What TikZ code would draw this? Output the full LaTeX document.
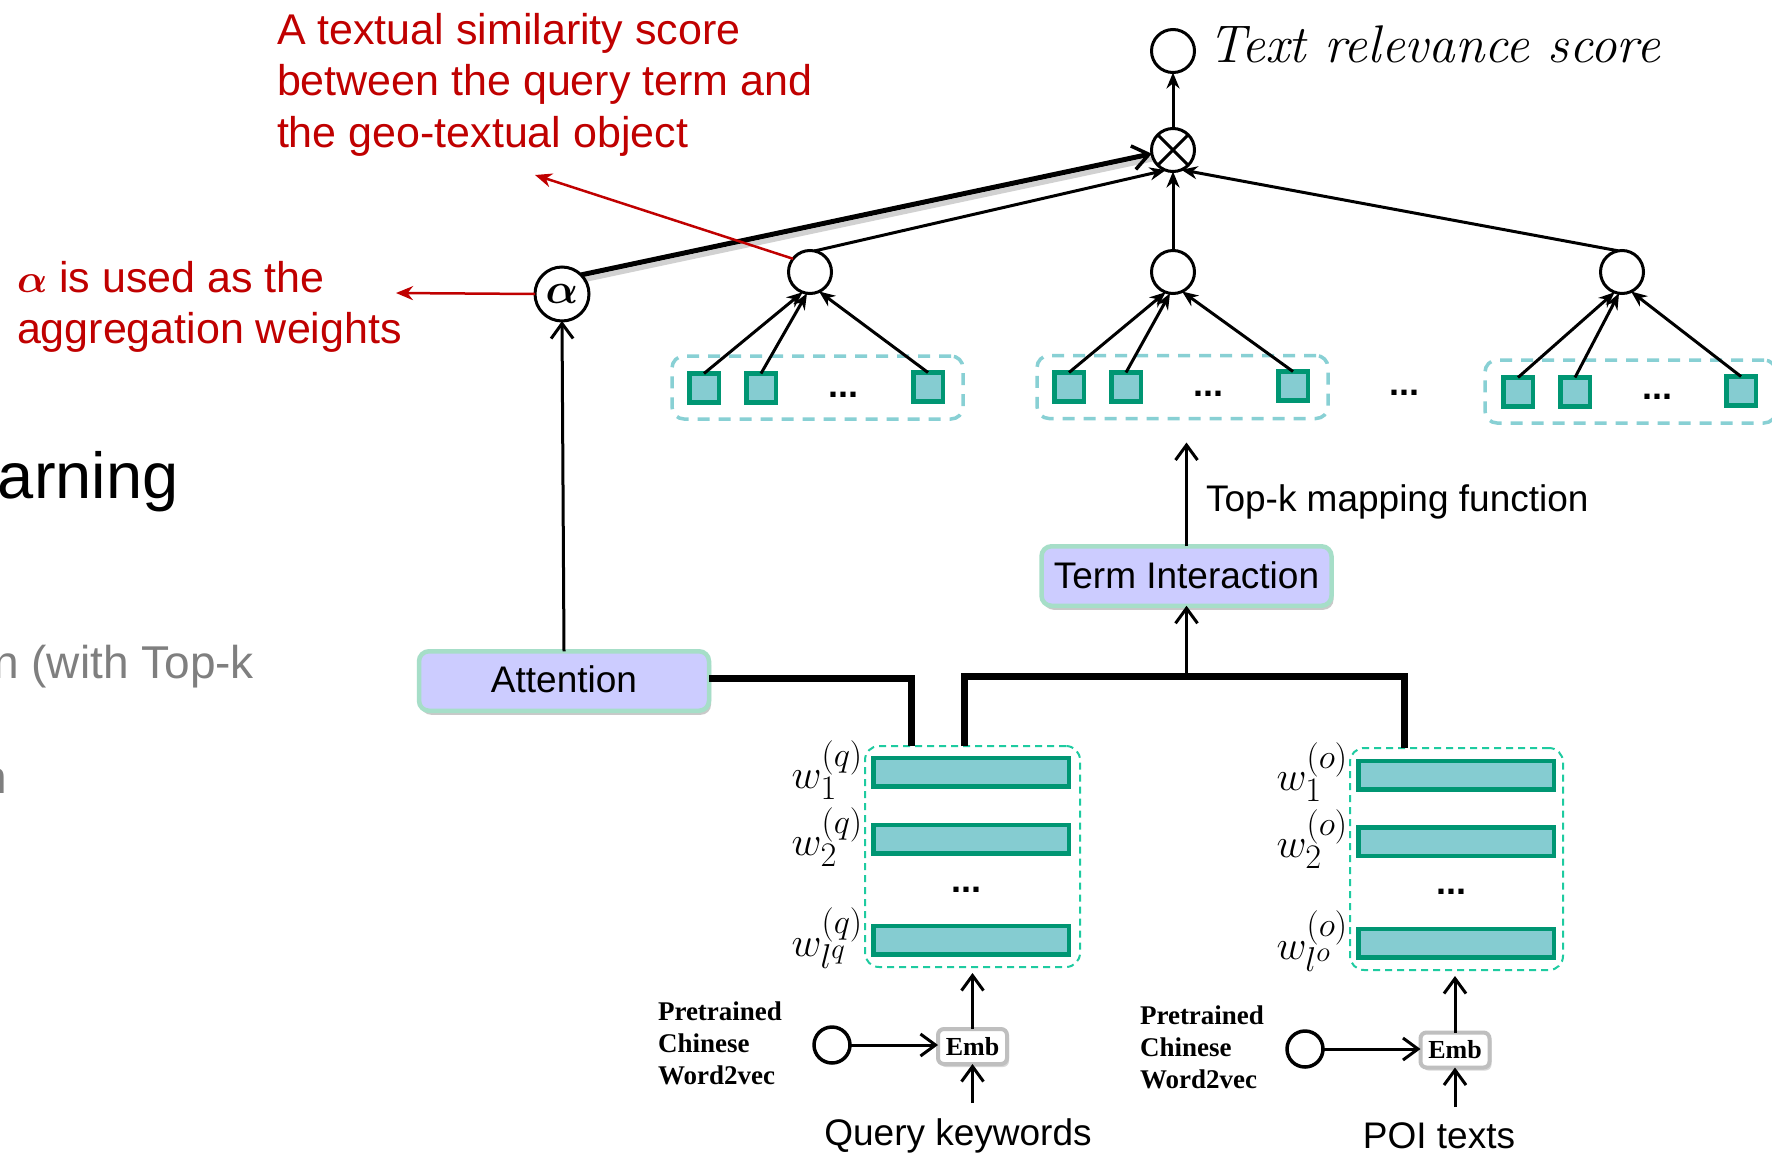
\RequirePackage{fix-cm}
\documentclass[tikz,border=0pt]{standalone}
\usepackage{fontspec}
\usepackage{graphicx}
\usepackage{bm}
\usetikzlibrary{arrows.meta,shapes.geometric,shadows,calc}
\newfontfamily\arialf{Liberation Sans}
\newfontfamily\serifb{Liberation Serif}
\definecolor{redann}{HTML}{C00000}
\definecolor{cellfill}{HTML}{85CCD1}
\definecolor{celledge}{HTML}{009673}
\definecolor{grpdash}{HTML}{88D0D4}
\definecolor{embdash}{HTML}{1ECBA0}
\definecolor{boxfill}{HTML}{CCCCFF}
\definecolor{boxedge}{HTML}{A6DEC8}
\definecolor{embedge}{HTML}{BFBFBF}
\definecolor{graytxt}{HTML}{7F7F7F}
% math set at the largest design size, then enlarged
\newcommand{\bigmath}[2]{\scalebox{#1}{\fontsize{24.88}{28}\selectfont$#2$}}
\begin{document}
\begin{tikzpicture}[x=1pt,y=-1pt,
  every node/.style={inner sep=0pt,outer sep=0pt},
  neuron/.style={draw,circle,line width=3pt,minimum size=43pt,fill=white},
  smallc/.style={draw,circle,line width=3.5pt,minimum size=36pt,fill=white},
  cell/.style={draw=celledge,fill=cellfill,line width=4.5pt,minimum width=29.5pt,minimum height=29pt},
  bar/.style={draw=celledge,fill=cellfill,line width=4.5pt,minimum width=195.5pt,minimum height=28.5pt},
  grp/.style={draw=grpdash,line width=3.5pt,dash pattern=on 12pt off 9pt,rounded corners=12pt,minimum width=291pt,minimum height=63pt},
  embgrp/.style={draw=embdash,line width=2pt,dash pattern=on 7pt off 5pt,rounded corners=14pt},
  procbox/.style={draw=boxedge,fill=boxfill,line width=4.5pt,rounded corners=10pt,minimum width=290pt,minimum height=59.5pt,
    font=\arialf\fontsize{37}{44}\selectfont,
    drop shadow={shadow xshift=2pt,shadow yshift=-4pt,opacity=0.35,fill=black!60}},
  embbox/.style={draw=embedge,fill=white,line width=4pt,rounded corners=6pt,minimum width=69pt,minimum height=35pt,
    font=\serifb\bfseries\fontsize{26}{30}\selectfont,
    drop shadow={shadow xshift=2pt,shadow yshift=-3pt,opacity=0.3,fill=black!50}},
  tree/.style={line width=3pt,-{Stealth[length=16pt,width=13pt]}},
  openarr/.style={line width=3pt,-{Straight Barb[length=15pt,width=22pt,line width=3pt]}},
  conn/.style={line width=7pt},
  redarrow/.style={draw=redann,line width=2.5pt,-{Stealth[length=17pt,width=14pt]}},
  redtxt/.style={text=redann,font=\arialf\fontsize{43}{51.5}\selectfont,align=left,anchor=north west},
  sanslbl/.style={font=\arialf\fontsize{37}{44}\selectfont},
  dots/.style={font=\arialf\bfseries\fontsize{36}{36}\selectfont,anchor=base},
  wlbl/.style={anchor=east},
  pretr/.style={font=\serifb\bfseries\fontsize{27}{32}\selectfont,align=left,anchor=north west}]

\clip (0,0) rectangle (1772,1154);
\fill[white] (0,0) rectangle (1772,1154);

% clipped slide text on the left edge
\node[anchor=base west,font=\arialf\fontsize{65}{72}\selectfont] (learn) at (-2,498) {arning};
\node[anchor=base east,text=graytxt,font=\arialf\fontsize{46}{54}\selectfont] (topkline) at (254,678) {n (with Top-k};
\node[anchor=base east,text=graytxt,font=\arialf\fontsize{46}{54}\selectfont] (partial) at (7,793) {n};

% red annotations
\node[redtxt] (simtxt) at (277,13) {A textual similarity score\\between the query term and\\the geo-textual object};
\node[redtxt] (alphatxt) at (17,261) {\bigmath{1.6}{\bm{\alpha}} is used as the\\aggregation weights};

% top-k groups of interaction cells
\node[grp] (g1) at (817.5,387.5) {};
\node[grp] (g2) at (1182.5,387) {};
\node[grp] (g3) at (1630.5,391.5) {};

\node[cell] (s11) at (704,388) {};
\node[cell] (s12) at (761,388) {};
\node[cell] (s13) at (928,387) {};
\node[cell] (s21) at (1069,387) {};
\node[cell] (s22) at (1126,387) {};
\node[cell] (s23) at (1293,386) {};
\node[cell] (s31) at (1518,392) {};
\node[cell] (s32) at (1575,392) {};
\node[cell] (s33) at (1741,391) {};

\node[dots] (d1) at (843,397) {...};
\node[dots] (d2) at (1208,396) {...};
\node[dots] (dm) at (1404,395) {...};
\node[dots] (d3) at (1657,399) {...};

% aggregation neurons
\node[neuron] (out) at (1173,51) {};
\node[neuron] (ot) at (1173,150) {};
\draw[line width=3pt] (ot.north west) -- (ot.south east) (ot.north east) -- (ot.south west);
\node[neuron,minimum size=54pt] (alpha) at (562,294) {\bigmath{1.72}{\bm{\alpha}}};
\node[neuron] (c1) at (810,272) {};
\node[neuron] (c2) at (1173,272) {};
\node[neuron] (c3) at (1622,272) {};

\node[anchor=base west,font=\itshape\fontsize{53}{58}\selectfont] (relev) at (1208,62) {Text relevance score};

\draw[tree] (s11.north) -- (c1.250);
\draw[tree] (s12.north) -- (c1.262);
\draw[tree] (s13.north) -- (c1.295);
\draw[tree] (s21.north) -- (c2.250);
\draw[tree] (s22.north) -- (c2.262);
\draw[tree] (s23.north) -- (c2.295);
\draw[tree] (s31.north) -- (c3.250);
\draw[tree] (s32.north) -- (c3.262);
\draw[tree] (s33.north) -- (c3.295);

\draw[tree] (c1.78) -- (ot.250);
\draw[tree] (c2.north) -- (ot.south);
\draw[tree] (c3.100) -- (ot.293);
\draw[tree] (ot.north) -- (out.south);

% weighted link from alpha, with its shadow
\draw[line width=5pt,black,opacity=0.18] ($(alpha.45)+(2,5)$) -- ($(ot.190)+(2,5)$);
\draw[line width=5pt,-{Straight Barb[length=16pt,width=24pt,line width=3.5pt]}] (alpha.45) -- (ot.190);

\coordinate (simtip) at (535,175);
\coordinate (alphatip) at (396,293);
\draw[redarrow] (c1.142) -- (simtip);
\draw[redarrow] (alpha.west) -- (alphatip);

% attention and term interaction
\node[procbox] (att) at (564,681) {\raisebox{3pt}{Attention}};
\node[procbox] (term) at (1186.5,576) {\raisebox{2pt}{Term Interaction}};
\draw[openarr] (att.north) -- (alpha.south);
\draw[openarr,shorten >=24pt] (term.north) -- (term.north |- g2.south);
\node[anchor=base west,sanslbl] (topk) at (1206,511) {Top-k mapping function};

% embedding matrices
\node[embgrp,minimum width=215pt,minimum height=221pt] (qgrp) at (972.5,856.5) {};
\node[embgrp,minimum width=213pt,minimum height=222pt] (ogrp) at (1456.5,859) {};

\node[bar] (q1) at (971,772) {};
\node[bar] (q2) at (971,839) {};
\node[bar] (q3) at (971,940) {};
\node[bar] (o1) at (1456,775) {};
\node[bar] (o2) at (1456,841.5) {};
\node[bar] (o3) at (1456,943) {};
\node[dots] (qd) at (966,892) {...};
\node[dots] (od) at (1451,894) {...};

\node[wlbl] (wq1) at (863,770) {\bigmath{1.66}{w_1^{(q)}}};
\node[wlbl] (wq2) at (863,837) {\bigmath{1.66}{w_2^{(q)}}};
\node[wlbl] (wq3) at (863,938) {\bigmath{1.66}{w_{l^q}^{(q)}}};
\node[wlbl] (wo1) at (1348,772) {\bigmath{1.66}{w_1^{(o)}}};
\node[wlbl] (wo2) at (1348,839) {\bigmath{1.66}{w_2^{(o)}}};
\node[wlbl] (wo3) at (1348,941) {\bigmath{1.66}{w_{l^o}^{(o)}}};

% thick feature connectors
\coordinate (qtopa) at ($(qgrp.north west)!0.214!(qgrp.north east)$);
\coordinate (qtopb) at ($(qgrp.north west)!0.465!(qgrp.north east)$);
\coordinate (otop) at ($(ogrp.north west)!0.258!(ogrp.north east)$);
\coordinate (tjoin) at (term.south |- 0,676);
\draw[conn] (att.east |- 0,678) -| (qtopa);
\draw[conn] (qtopb) -- (qtopb |- tjoin) -- (otop |- tjoin) -- (otop);
\draw[openarr] (tjoin) -- (term.south);

% embedding lookup
\node[embbox] (embq) at (972.5,1046.5) {Emb};
\node[embbox] (embo) at (1455,1050) {Emb};
\node[smallc] (srcq) at (832,1045) {};
\node[smallc] (srco) at (1305,1049) {};
\draw[openarr] (srcq.east) -- (srcq.east -| embq.west);
\draw[openarr] (srco.east) -- (srco.east -| embo.west);
\draw[openarr,shorten >=6pt] (embq.north) -- (embq.north |- qgrp.south);
\draw[openarr,shorten >=6pt] (embo.north) -- (embo.north |- ogrp.south);

\node[sanslbl,anchor=base,inner ysep=15pt] (qk) at (958,1145) {Query keywords};
\node[sanslbl,anchor=base,inner ysep=15pt] (poi) at (1439,1148) {POI texts};
\draw[openarr] (qk.north -| embq.south) -- (embq.south);
\draw[openarr] (poi.north -| embo.south) -- (embo.south);

\node[pretr] (w2vq) at (658,1002) {Pretrained\\Chinese\\Word2vec};
\node[pretr] (w2vo) at (1140,1006) {Pretrained\\Chinese\\Word2vec};
\end{tikzpicture}
\end{document}
